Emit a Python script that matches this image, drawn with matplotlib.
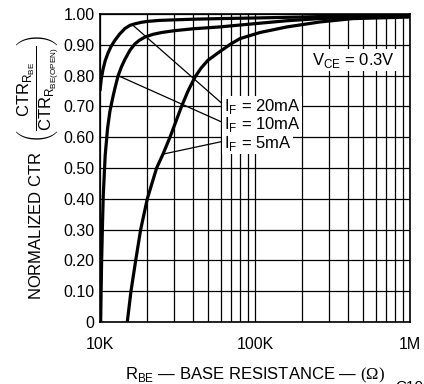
"""
Normalized CTR vs base resistance for three forward currents
"""
import matplotlib
matplotlib.use('Agg')
import matplotlib.pyplot as plt
from matplotlib.ticker import FixedLocator, LogLocator, NullFormatter

plt.rcParams['font.family'] = ['Liberation Sans', 'DejaVu Sans']
plt.rcParams['mathtext.fontset'] = 'custom'
plt.rcParams['mathtext.rm'] = 'Liberation Sans'
plt.rcParams['mathtext.sf'] = 'Liberation Sans'
plt.rcParams['mathtext.cal'] = 'Liberation Serif'

# base resistance (ohm) and normalized CTR
r_20ma = [10e3, 10.2e3, 10.46e3, 10.8e3, 11.26e3, 11.8e3, 12.5e3, 13.4e3,
          14.5e3, 15.6e3, 16.8e3, 18.5e3, 20.4e3, 24e3, 30.5e3, 40e3,
          59.4e3, 100e3, 195e3, 400e3, 1e6]
ctr_20ma = [0.75, 0.79, 0.82, 0.848, 0.873, 0.895, 0.915, 0.935,
            0.953, 0.963, 0.968, 0.973, 0.976, 0.979, 0.981, 0.983,
            0.985, 0.987, 0.99, 0.994, 0.997]

r_10ma = [10.1e3, 10.17e3, 10.25e3, 10.37e3, 10.5e3, 10.8e3, 11.2e3,
          11.6e3, 12.05e3, 12.5e3, 13.1e3, 13.8e3, 14.5e3, 15.6e3, 16.8e3,
          18e3, 19.5e3, 22e3, 25.1e3, 30.5e3, 40e3, 59.4e3, 97e3, 160e3,
          262e3, 500e3, 1e6]
ctr_10ma = [0.0, 0.1, 0.2, 0.31, 0.41, 0.54, 0.63, 0.685, 0.725, 0.76,
            0.80, 0.83, 0.853, 0.882, 0.903, 0.915, 0.925, 0.934, 0.94,
            0.946, 0.952, 0.958, 0.968, 0.978, 0.985, 0.99, 0.993]

r_5ma = [15.0e3, 15.85e3, 17.0e3, 18.3e3, 20.2e3, 23.2e3, 25.5e3, 28.3e3,
         33.6e3, 37e3, 41.0e3, 45e3, 49.8e3, 59.4e3, 70e3, 80e3, 108e3,
         161e3, 262e3, 428e3, 1e6]
ctr_5ma = [0.0, 0.10, 0.20, 0.30, 0.40, 0.50, 0.545, 0.60, 0.70, 0.75,
           0.795, 0.825, 0.85, 0.878, 0.903, 0.92, 0.94, 0.958, 0.974,
           0.985, 0.99]

y_ticks = [0, 0.1, 0.2, 0.3, 0.4, 0.5, 0.6, 0.7, 0.8, 0.9, 1.0]
y_tick_labels = ['0', '0.10', '0.20', '0.30', '0.40', '0.50', '0.60',
                 '0.70', '0.80', '0.90', '1.00']
x_ticks = [1e4, 1e5, 1e6]
x_tick_labels = ['10K', '100K', '1M']

# label text and where the leader lines touch each curve
labels = [r'I$_\mathrm{F}$ = 20mA', r'I$_\mathrm{F}$ = 10mA',
          r'I$_\mathrm{F}$ = 5mA']
label_points = [(16.1e3, 0.966), (13.06e3, 0.80), (25.5e3, 0.545)]
label_text_y = [0.698, 0.640, 0.581]

fig = plt.figure(figsize=(4.24, 3.84), dpi=100)
ax = fig.add_axes([0.2358, 0.1615, 0.7311, 0.8021])

for r, ctr in [(r_20ma, ctr_20ma), (r_10ma, ctr_10ma), (r_5ma, ctr_5ma)]:
    ax.plot(r, ctr, color='black', linewidth=2.3, solid_capstyle='butt',
            solid_joinstyle='round', zorder=3)

ax.set_xscale('log')
ax.set_xlim(1e4, 1e6)
ax.set_ylim(0, 1.0)

ax.xaxis.set_major_locator(FixedLocator(x_ticks))
ax.set_xticklabels(x_tick_labels)
ax.xaxis.set_minor_locator(LogLocator(base=10, subs=range(2, 10)))
ax.xaxis.set_minor_formatter(NullFormatter())
ax.set_yticks(y_ticks)
ax.set_yticklabels(y_tick_labels)

ax.grid(which='both', axis='x', color='black', linewidth=0.9)
ax.grid(which='major', axis='y', color='black', linewidth=0.9)
ax.tick_params(which='both', length=0, labelsize=11.5)
ax.tick_params(axis='x', pad=11)
ax.tick_params(axis='y', pad=4)
for spine in ax.spines.values():
    spine.set_linewidth(1.2)

# leader lines and labels
for text, point, ty in zip(labels, label_points, label_text_y):
    ax.annotate(text, xy=point, xytext=(63e3, ty), fontsize=12,
                ha='left', va='center', zorder=4,
                bbox=dict(boxstyle='square,pad=0.1', fc='white', ec='none'),
                arrowprops=dict(arrowstyle='-', color='black', lw=0.9,
                                shrinkA=0, shrinkB=0, relpos=(0, 0.6)))

ax.text(0.8e6, 0.85, r'V$_\mathrm{CE}$ = 0.3V', fontsize=12, ha='right',
        va='center', zorder=4,
        bbox=dict(boxstyle='square,pad=0.1', fc='white', ec='none'))

ax.set_ylabel(r'NORMALIZED CTR  $\left(\dfrac{\mathrm{CTR}_{\mathrm{R_{BE}}}}'
              r'{\mathrm{CTR}_{\mathrm{R_{BE(OPEN)}}}}\right)$',
              fontsize=12, labelpad=1)
ax.set_xlabel(r'R$_\mathrm{BE}$ — BASE RESISTANCE — $\mathcal{(\Omega)}$',
              fontsize=12, labelpad=10)

fig.text(0.932, 0.011, 'C1000', fontsize=11, ha='left', va='top')

plt.savefig('out.png', dpi=100)
